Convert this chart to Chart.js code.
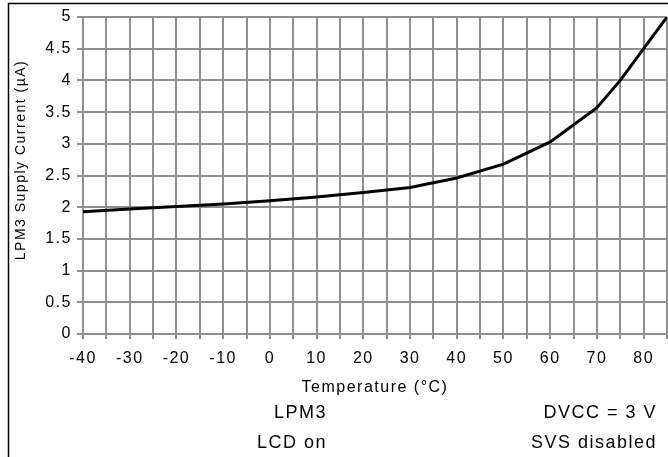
<!DOCTYPE html>
<html>
<head>
<meta charset="utf-8">
<script src="https://cdn.jsdelivr.net/npm/chart.js@4/dist/chart.umd.min.js"></script>
<style>
  html, body { margin: 0; padding: 0; background: #fff; }
  canvas { display: block; }
</style>
</head>
<body>
<canvas id="myChart" width="668" height="457"></canvas>
<script>
// values
const temperatures = [-40, -30, -20, -10, 0, 10, 20, 30, 40, 50, 60, 70, 75, 80, 85];
const supplyCurrent = [1.93, 1.97, 2.01, 2.05, 2.1, 2.16, 2.23, 2.31, 2.46, 2.68, 3.03, 3.57, 4.0, 4.5, 5.0];
const yTitle = "LPM3 Supply Current (µA)";
const noteLeft = ["LPM3", "LCD on"];
const noteRight = ["DVCC = 3 V", "SVS disabled"];

const FONT = "'Liberation Sans', Arial, sans-serif";
const GRID = "#909090";
const SPACING = "1.5px"; // the reference text is set wide

const spacingPlugin = {
  id: "letterSpacing",
  beforeLayout: (chart) => { chart.ctx.letterSpacing = SPACING; },
  beforeDraw: (chart) => { chart.ctx.letterSpacing = SPACING; },
};

const framePlugin = {
  id: "frameAndNotes",
  afterDraw: (chart) => {
    const { ctx } = chart;
    ctx.save();
    // outer frame (left + top edges visible)
    ctx.strokeStyle = "#000";
    ctx.lineWidth = 1.5;
    ctx.beginPath();
    ctx.moveTo(8.5, 457);
    ctx.lineTo(8.5, 3.5);
    ctx.lineTo(668, 3.5);
    ctx.stroke();
    // condition notes under the axis title
    ctx.fillStyle = "#000";
    ctx.font = "18px " + FONT;
    ctx.textBaseline = "middle";
    ctx.textAlign = "right";
    ctx.fillText(noteLeft[0], 327, 413);
    ctx.fillText(noteLeft[1], 327, 443);
    ctx.fillText(noteRight[0], 657, 413);
    ctx.fillText(noteRight[1], 657, 443);
    // y axis title, a little above the plot centre as in the reference
    ctx.font = "14px " + FONT;
    ctx.textAlign = "center";
    ctx.translate(21, 160);
    ctx.rotate(-Math.PI / 2);
    ctx.fillText(yTitle, 0, 0);
    ctx.restore();
  },
};

new Chart(document.getElementById("myChart"), {
  type: "line",
  data: {
    datasets: [
      {
        data: temperatures.map((t, i) => ({ x: t, y: supplyCurrent[i] })),
        borderColor: "#000",
        borderWidth: 3,
        pointRadius: 0,
        tension: 0,
        fill: false,
      },
    ],
  },
  options: {
    responsive: false,
    animation: false,
    layout: { padding: { top: 17, right: 1, left: 0, bottom: 0 } },
    plugins: {
      legend: { display: false },
      tooltip: { enabled: false },
    },
    scales: {
      x: {
        type: "linear",
        min: -40,
        max: 85,
        afterFit: (scale) => {
          scale.height = 123;
          scale.paddingLeft = 0;
          scale.paddingRight = 0;
        },
        ticks: {
          stepSize: 5,
          autoSkip: false,
          maxRotation: 0,
          color: "#000",
          font: { family: FONT, size: 16 },
          padding: 10,
          callback: (v) => (v % 10 === 0 ? String(v) : ""),
        },
        grid: { color: GRID, lineWidth: 2, tickLength: 5, tickColor: GRID },
        border: { color: GRID, width: 2 },
        title: {
          display: true,
          text: "Temperature (°C)",
          color: "#000",
          font: { family: FONT, size: 16 },
          padding: { top: 0, bottom: 60 },
        },
      },
      y: {
        min: 0,
        max: 5,
        afterFit: (scale) => { scale.width = 83; },
        ticks: {
          stepSize: 0.5,
          color: "#000",
          font: { family: FONT, size: 16 },
          padding: 5,
          callback: (v) => String(v),
        },
        grid: { color: GRID, lineWidth: 2, tickLength: 6, tickColor: GRID },
        border: { color: GRID, width: 2 },
      },
    },
  },
  plugins: [spacingPlugin, framePlugin],
});
</script>
</body>
</html>
